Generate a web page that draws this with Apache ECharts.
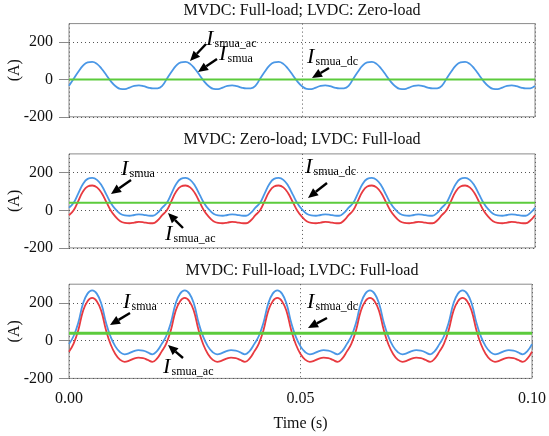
<!DOCTYPE html>
<html><head><meta charset="utf-8">
<script src="https://cdn.jsdelivr.net/npm/echarts@6/dist/echarts.min.js"></script>
<style>html,body{margin:0;padding:0;background:#fff}#c{width:549px;height:436px}</style>
</head><body><div id="c"></div>
<script>
// ---- data ----
const timeStep = 0.001; // sampling grid (s)
const time = Array.from({length: 101}, (_, i) => +(i * timeStep).toFixed(3));
const xTicks = [0, 0.05, 0.1];
const yTicks = [-200, 0, 200];
const panelTitles = ['MVDC: Full-load; LVDC: Zero-load', 'MVDC: Zero-load; LVDC: Full-load', 'MVDC: Full-load; LVDC: Full-load'];
const dcTime = [0, 0.1];

// Panel 1: Ismua (= Ismua_ac), Ismua_dc = 0
const p1Ismua = [
 -34, 4, 42, 74, 92, 95, 84, 58, 24, -10, -36, -50, -51, -43, -34, -31, -35, -43, -48, -47,
 -34, 4, 42, 74, 92, 95, 84, 58, 24, -10, -36, -50, -51, -43, -34, -31, -35, -43, -48, -47,
 -34, 4, 42, 74, 92, 95, 84, 58, 24, -10, -36, -50, -51, -43, -34, -31, -35, -43, -48, -47,
 -34, 4, 42, 74, 92, 95, 84, 58, 24, -10, -36, -50, -51, -43, -34, -31, -35, -43, -48, -47,
 -34, 4, 42, 74, 92, 95, 84, 58, 24, -10, -36, -50, -51, -43, -34, -31, -35, -43, -48, -47,
 -34];
const p1Dc = [0, 0];

// Panel 2
const p2Ismua = [
 14, 40, 90, 140, 167, 172, 162, 132, 85, 38, 5, -18, -27, -29, -25, -22, -24, -28, -29, -14,
 14, 40, 90, 140, 167, 172, 162, 132, 85, 38, 5, -18, -27, -29, -25, -22, -24, -28, -29, -14,
 14, 40, 90, 140, 167, 172, 162, 132, 85, 38, 5, -18, -27, -29, -25, -22, -24, -28, -29, -14,
 14, 40, 90, 140, 167, 172, 162, 132, 85, 38, 5, -18, -27, -29, -25, -22, -24, -28, -29, -14,
 14, 40, 90, 140, 167, 172, 162, 132, 85, 38, 5, -18, -27, -29, -25, -22, -24, -28, -29, -14,
 14];
const p2IsmuaAc = [
 -26, 0, 50, 100, 127, 132, 122, 92, 45, -2, -35, -58, -67, -69, -65, -62, -64, -68, -69, -54,
 -26, 0, 50, 100, 127, 132, 122, 92, 45, -2, -35, -58, -67, -69, -65, -62, -64, -68, -69, -54,
 -26, 0, 50, 100, 127, 132, 122, 92, 45, -2, -35, -58, -67, -69, -65, -62, -64, -68, -69, -54,
 -26, 0, 50, 100, 127, 132, 122, 92, 45, -2, -35, -58, -67, -69, -65, -62, -64, -68, -69, -54,
 -26, 0, 50, 100, 127, 132, 122, 92, 45, -2, -35, -58, -67, -69, -65, -62, -64, -68, -69, -54,
 -26];
const p2Dc = [40, 40];

// Panel 3
const p3Ismua = [
 -18, 25, 95, 195, 250, 267, 250, 195, 95, 20, -30, -60, -72, -66, -55, -50, -52, -62, -72, -55,
 -18, 25, 95, 195, 250, 267, 250, 195, 95, 20, -30, -60, -72, -66, -55, -50, -52, -62, -72, -55,
 -18, 25, 95, 195, 250, 267, 250, 195, 95, 20, -30, -60, -72, -66, -55, -50, -52, -62, -72, -55,
 -18, 25, 95, 195, 250, 267, 250, 195, 95, 20, -30, -60, -72, -66, -55, -50, -52, -62, -72, -55,
 -18, 25, 95, 195, 250, 267, 250, 195, 95, 20, -30, -60, -72, -66, -55, -50, -52, -62, -72, -55,
 -18];
const p3IsmuaAc = [
 -58, -15, 55, 155, 210, 227, 210, 155, 55, -20, -70, -100, -112, -106, -95, -90, -92, -102, -112, -95,
 -58, -15, 55, 155, 210, 227, 210, 155, 55, -20, -70, -100, -112, -106, -95, -90, -92, -102, -112, -95,
 -58, -15, 55, 155, 210, 227, 210, 155, 55, -20, -70, -100, -112, -106, -95, -90, -92, -102, -112, -95,
 -58, -15, 55, 155, 210, 227, 210, 155, 55, -20, -70, -100, -112, -106, -95, -90, -92, -102, -112, -95,
 -58, -15, 55, 155, 210, 227, 210, 155, 55, -20, -70, -100, -112, -106, -95, -90, -92, -102, -112, -95,
 -58];
const p3Dc = [40, 40];

// ---- styling ----
const FONT = 'Liberation Serif';
const BLUE = '#4a97e6', RED = '#e83a40', GREEN = '#5ccb3c', FRAME = '#8a8a8a', GRIDC = '#555';
const grids = [
  {left: 69, width: 466, top: 23.6, height: 93.2},
  {left: 69, width: 466, top: 153.9, height: 94},
  {left: 69, width: 466, top: 284.2, height: 94.2}
];

const pairs = (xs, ys) => xs.map((x, i) => [x, ys[i]]);

const xAxes = grids.map((g, k) => ({
  type: 'value', gridIndex: k, min: 0, max: 0.1, interval: 0.05,
  axisLine: {show: false},
  axisTick: {show: k === 2, length: 9, inside: false, lineStyle: {color: FRAME}},
  axisLabel: {show: k === 2, margin: 12, fontFamily: FONT, fontSize: 16, color: '#111',
              formatter: v => v.toFixed(2)},
  splitLine: {show: true, lineStyle: {color: GRIDC, type: [1, 3], width: 1}},
  name: k === 2 ? 'Time (s)' : '', nameLocation: 'middle', nameGap: 37,
  nameTextStyle: {fontFamily: FONT, fontSize: 16, color: '#111'}
}));
const yAxes = grids.map((g, k) => ({
  type: 'value', gridIndex: k, min: -200, max: 300, interval: 200,
  axisLine: {show: false},
  axisTick: {show: true, length: 10, lineStyle: {color: FRAME}, customValues: yTicks},
  axisLabel: {margin: 16, fontFamily: FONT, fontSize: 16, color: '#111', customValues: yTicks},
  splitLine: {show: true, lineStyle: {color: GRIDC, type: [1, 3], width: 1}}
}));

const lineS = (k, data, color, w, smooth) => ({
  type: 'line', xAxisIndex: k, yAxisIndex: k, data, showSymbol: false, symbol: 'none',
  smooth: smooth ? 0.45 : false, lineStyle: {color, width: w}, silent: true
});

const series = [
  lineS(0, pairs(time, p1Ismua), BLUE, 1.8, true),
  lineS(0, pairs(dcTime, p1Dc), GREEN, 2, false),
  lineS(1, pairs(time, p2Ismua), BLUE, 1.8, true),
  lineS(1, pairs(time, p2IsmuaAc), RED, 1.8, true),
  lineS(1, pairs(dcTime, p2Dc), GREEN, 2, false),
  lineS(2, pairs(time, p3Ismua), BLUE, 1.8, true),
  lineS(2, pairs(time, p3IsmuaAc), RED, 1.8, true),
  lineS(2, pairs(dcTime, p3Dc), GREEN, 3, false)
];

// ---- annotations ----
function arrow(x1, y1, x2, y2) {
  const a = Math.atan2(y2 - y1, x2 - x1), L = 10, W = 4.5;
  const bx = x2 - L * Math.cos(a), by = y2 - L * Math.sin(a);
  const px = -Math.sin(a), py = Math.cos(a);
  return [
    {type: 'line', shape: {x1, y1, x2: bx, y2: by}, style: {stroke: '#000', lineWidth: 2.4}, z: 100},
    {type: 'polygon', shape: {points: [[x2, y2], [bx + W * px, by + W * py], [bx - W * px, by - W * py]]},
     style: {fill: '#000'}, z: 100}
  ];
}
function label(x, base, sub) {
  return [
    {type: 'text', x: x, y: base, z: 100,
     style: {text: 'I', fontFamily: FONT, fontStyle: 'italic', fontSize: 22, fill: '#000', textVerticalAlign: 'bottom'}},
    {type: 'text', x: x + 8.5, y: base, z: 100,
     style: {text: sub, fontFamily: FONT, fontSize: 12, fill: '#000', textVerticalAlign: 'bottom'}}
  ];
}
const titleY = [11, 140, 270.5];
const graphic = [];
panelTitles.forEach((t, k) => graphic.push({type: 'text', x: 302, y: titleY[k],
  style: {text: t, fontFamily: FONT, fontSize: 16, fill: '#111', textAlign: 'center', textVerticalAlign: 'middle'}}));
grids.forEach(g => graphic.push({type: 'text', x: 15, y: g.top + g.height / 2, rotation: Math.PI / 2,
  style: {text: '(A)', fontFamily: FONT, fontSize: 16, fill: '#111', textAlign: 'center', textVerticalAlign: 'middle'}}));
graphic.push(
  ...label(206, 50, 'smua_ac'), ...arrow(206, 44, 190, 61),
  ...label(219, 65, 'smua'), ...arrow(217, 59, 198, 72),
  ...label(307, 68, 'smua_dc'), ...arrow(329, 68, 312, 78),
  ...label(121, 180, 'smua'), ...arrow(131, 180, 111, 194),
  ...label(165, 245, 'smua_ac'), ...arrow(183, 228, 168, 213),
  ...label(305, 178, 'smua_dc'), ...arrow(327, 183, 308, 198),
  ...label(123, 313, 'smua'), ...arrow(130, 313, 110, 325),
  ...label(163, 378, 'smua_ac'), ...arrow(183, 358, 168, 345),
  ...label(307, 313, 'smua_dc'), ...arrow(327, 318, 308, 328)
);

const chart = echarts.init(document.getElementById('c'), null, {renderer: 'canvas'});
chart.setOption({
  animation: false,
  backgroundColor: '#fff',
  grid: grids.map(g => Object.assign({show: true, borderColor: FRAME, borderWidth: 1, backgroundColor: 'transparent', containLabel: false}, g)),
  xAxis: xAxes,
  yAxis: yAxes,
  series,
  graphic
});
</script></body></html>
